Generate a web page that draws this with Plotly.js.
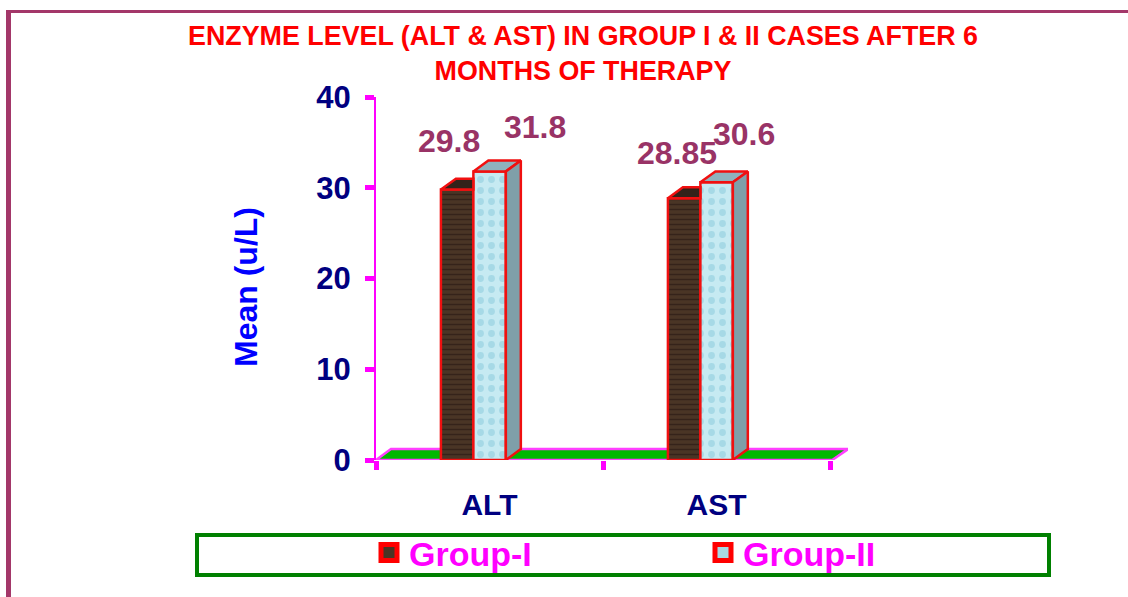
<!DOCTYPE html>
<html>
<head>
<meta charset="utf-8">
<script src="https://cdn.plot.ly/plotly-3.0.1.min.js"></script>
<style>html,body{margin:0;padding:0;background:#fff;overflow:hidden}#chart{width:1128px;height:597px}</style>
</head>
<body>
<div id="chart"></div>
<script>
const categories = ['ALT', 'AST'];
const categoryCenters = [0.5, 1.5];
const group1 = [29.8, 28.85];
const group2 = [31.8, 30.6];
const seriesNames = ['Group-I', 'Group-II'];
const titleText = 'ENZYME LEVEL (ALT &amp; AST) IN GROUP I &amp; II CASES AFTER 6<br>MONTHS OF THERAPY';
const yTitleText = 'Mean (u/L)';
const yTicks = [0, 10, 20, 30, 40];

// layout
const W = 1128, H = 597;
const L = 376, R = 848, T = 97, B = 460;
const FONT = '"Liberation Sans", Arial, sans-serif';
const barW = 0.143, off1 = -0.214, off2 = -0.071;
const depthX = 0.066, depthY = 1.2;
const px = x => (x - L) / (R - L);
const py = y => (B - y) / (B - T);

function polys(build) {
  const xs = [], ys = [];
  categoryCenters.forEach((c, i) => {
    const p = build(c, i);
    p.forEach(q => { xs.push(q[0]); ys.push(q[1]); });
    xs.push(p[0][0]); ys.push(p[0][1]);
    xs.push(null); ys.push(null);
  });
  return {x: xs, y: ys};
}
function face(poly, color) {
  return {type: 'scatter', mode: 'lines', x: poly.x, y: poly.y, fill: 'toself', fillcolor: color,
    line: {color: '#f01010', width: 2.5}, showlegend: false, hoverinfo: 'skip'};
}
function legendKey(name, color, legendId) {
  return {type: 'scatter', mode: 'markers', name: name, legend: legendId, x: [null], y: [null],
    marker: {symbol: 'square', size: 16, color: color, line: {color: '#ff0000', width: 5}}, hoverinfo: 'skip'};
}
function legendBox(xPixel) {
  return {orientation: 'h', xref: 'container', yref: 'container', x: xPixel / W, xanchor: 'left', y: 1 - 524 / H, yanchor: 'top',
    bgcolor: 'rgba(0,0,0,0)',
    font: {family: FONT, size: 34, weight: 700, color: '#ff00ff'},
    itemclick: false, itemdoubleclick: false};
}

const traces = [
  {type: 'bar', name: seriesNames[0], x: categoryCenters, y: group1, width: barW, offset: off1, showlegend: false,
   marker: {color: '#44301f', line: {color: '#f01010', width: 2.5},
     pattern: {shape: '-', fgcolor: '#35231a', bgcolor: '#4a3525', size: 5, solidity: 0.3, fillmode: 'replace'}},
   hoverinfo: 'y'},
  {type: 'bar', name: seriesNames[1], x: categoryCenters, y: group2, width: barW, offset: off2, showlegend: false,
   marker: {color: '#bfe6ef', line: {color: '#f01010', width: 2.5},
     pattern: {shape: '.', fgcolor: '#a6d9e6', bgcolor: '#c6eaf2', size: 11, solidity: 0.3, fillmode: 'replace'}},
   hoverinfo: 'y'},
  face(polys((c, i) => {
    const a = c + off1, b = c + off2, v = group1[i];
    return [[a, v], [a + depthX, v + depthY], [b, v + depthY], [b, v]];
  }), '#33221a'),
  face(polys((c, i) => {
    const a = c + off2, b = a + barW, v = group2[i];
    return [[a, v], [a + depthX, v + depthY], [b + depthX, v + depthY], [b, v]];
  }), '#8fb2bd'),
  face(polys((c, i) => {
    const b = c + off2 + barW, v = group2[i];
    return [[b, 0], [b + depthX, depthY], [b + depthX, v + depthY], [b, v]];
  }), '#7f9fa9'),
  legendKey(seriesNames[0], '#4a3525', 'legend'),
  legendKey(seriesNames[1], '#a8d8e4', 'legend2')
];

const labelValues = [group1[0], group2[0], group1[1], group2[1]];
const labelX = [0.32, 0.70, 1.326, 1.62];
const labelLift = [5.35, 4.9, 4.95, 5.3];

const valueLabels = labelValues.map((v, i) => ({
  x: labelX[i], y: v + labelLift[i], xref: 'x', yref: 'y', text: String(v), showarrow: false,
  xanchor: 'center', yanchor: 'middle',
  font: {family: FONT, size: 32, weight: 700, color: '#993366'}
}));
const yTitle = {
  x: px(246), y: py(287), xref: 'paper', yref: 'paper', text: yTitleText, textangle: -90, showarrow: false,
  xanchor: 'center', yanchor: 'middle',
  font: {family: FONT, size: 32, weight: 700, color: '#0000ff'}
};

const layout = {
  width: W, height: H,
  paper_bgcolor: '#fff', plot_bgcolor: 'rgba(0,0,0,0)',
  font: {family: FONT},
  margin: {l: L, r: W - R, t: T, b: H - B, pad: 0, autoexpand: false},
  barmode: 'overlay',
  title: {text: titleText, font: {family: FONT, size: 26.85, weight: 700, color: '#ff0000'},
    x: 583 / W, xref: 'container', xanchor: 'center', y: 1 - 45 / H, yref: 'container', yanchor: 'top', automargin: false},
  xaxis: {range: [0, (R - L) / 227], showgrid: false, zeroline: false, showline: false, fixedrange: true,
    tickmode: 'array', tickvals: categoryCenters, ticktext: categories, ticks: '',
    tickfont: {family: FONT, size: 30, weight: 700, color: '#000080'}, ticklabelstandoff: 24,
    minor: {tickmode: 'array', tickvals: [0, 1, 2], ticks: 'outside', ticklen: 9, tickwidth: 5, tickcolor: '#ff00ff', showgrid: false}},
  yaxis: {range: [0, 40], tickmode: 'array', tickvals: yTicks, showgrid: false, zeroline: false, fixedrange: true,
    showline: true, linecolor: '#ff00ff', linewidth: 2, ticks: 'outside', ticklen: 9, tickwidth: 5, tickcolor: '#ff00ff',
    ticklabelstandoff: 8,
    tickfont: {family: FONT, size: 31, weight: 700, color: '#000080'}},
  legend: legendBox(369),
  legend2: legendBox(703),
  shapes: [
    {type: 'path', layer: 'below', xref: 'x', yref: 'y',
     path: `M 0 0 L ${depthX} ${depthY} L ${(R - L) / 227} ${depthY} L 2.01 0 Z`,
     fillcolor: '#00b800', line: {color: '#ff40ff', width: 2.5}},
    {type: 'rect', xref: 'paper', yref: 'paper', x0: px(197), x1: px(1049), y0: py(575), y1: py(535),
     fillcolor: 'rgba(0,0,0,0)', line: {color: '#008000', width: 4}},
    {type: 'rect', xref: 'paper', yref: 'paper', x0: px(6), x1: px(11), y0: py(597), y1: py(10),
     fillcolor: '#a33769', line: {width: 0}},
    {type: 'rect', xref: 'paper', yref: 'paper', x0: px(6), x1: px(1128), y0: py(13), y1: py(10),
     fillcolor: '#a33769', line: {width: 0}}
  ],
  annotations: valueLabels.concat([yTitle])
};

Plotly.newPlot('chart', traces, layout, {displayModeBar: false, responsive: false});
</script>
</body>
</html>
